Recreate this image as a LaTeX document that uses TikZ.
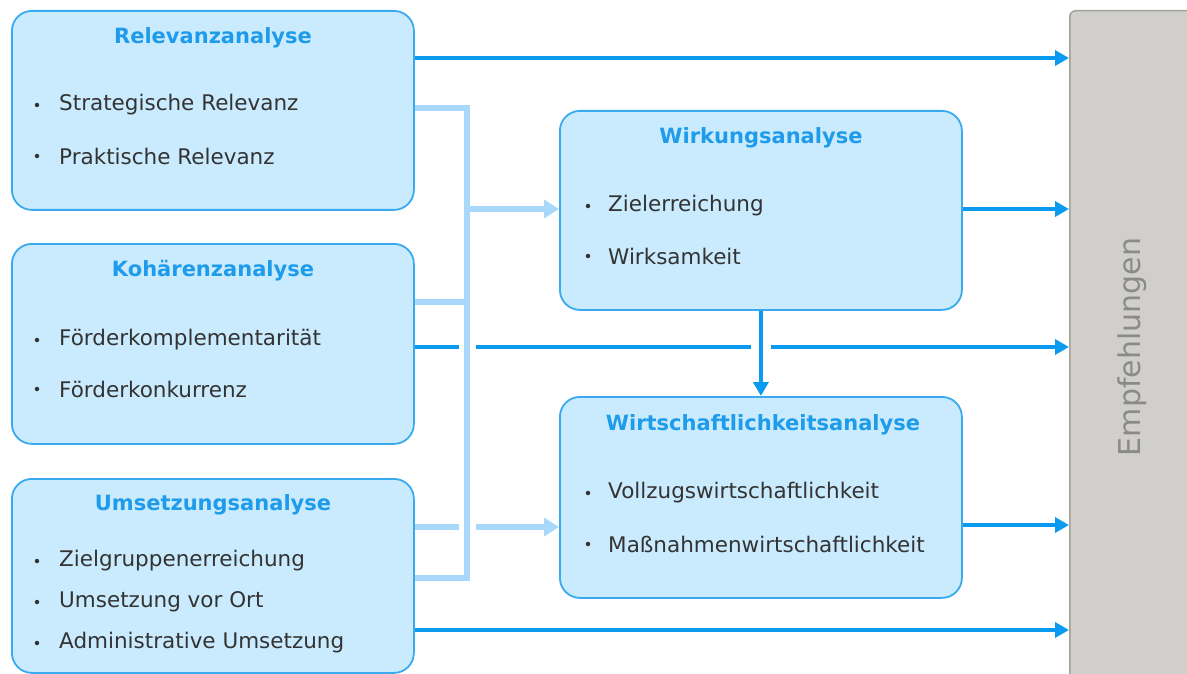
\documentclass[tikz,border=0pt]{standalone}
\usepackage{fontspec}
\setmainfont{DejaVu Sans}
\usetikzlibrary{arrows.meta,calc}
\definecolor{boxfill}{HTML}{C9EBFD}
\definecolor{boxdraw}{HTML}{3AAAF0}
\definecolor{titleblue}{HTML}{1E9BEB}
\definecolor{darkarr}{HTML}{0A9BEF}
\definecolor{lightarr}{HTML}{A8D8FA}
\definecolor{bodytext}{HTML}{333333}
\definecolor{empfill}{HTML}{D0CFCB}
\definecolor{empdraw}{HTML}{A3A298}
\definecolor{emptext}{HTML}{8A8A8A}
\tikzset{
  box/.style={draw=boxdraw, fill=boxfill, line width=1.8pt, rounded corners=20pt, anchor=north west, inner sep=0pt},
  ttl/.style={font=\fontsize{21}{24}\selectfont\bfseries, text=titleblue, inner sep=0pt},
  itm/.style={font=\fontsize{21.5}{24}\selectfont, text=bodytext, anchor=west, inner sep=0pt},
  bul/.style={circle, fill=bodytext, inner sep=0pt, minimum size=4.5pt},
  darkline/.style={draw=darkarr, line width=4.5pt},
  darkarrow/.style={darkline, -{Triangle[length=14pt,width=15pt]}},
  lightline/.style={draw=lightarr, line width=5.5pt},
  lightarrow/.style={lightline, -{Triangle[length=15pt,width=18pt]}},
  gapline/.style={draw=white, line width=17pt}
}
\begin{document}
\begin{tikzpicture}[x=1pt,y=-1pt]
\useasboundingbox (0,0) rectangle (1187,674);
% boxes
\node[box, minimum width=402pt, minimum height=199pt] (rel) at (11,10) {};
\node[box, minimum width=402pt, minimum height=200pt] (koh) at (11,243) {};
\node[box, minimum width=402pt, minimum height=194pt] (ums) at (11,478) {};
\node[box, minimum width=402pt, minimum height=199pt] (wirk) at (559,110) {};
\node[box, minimum width=402pt, minimum height=201pt] (wirt) at (559,396) {};
\begin{scope}
\clip (0,0) rectangle (1187,674);
\node[draw=empdraw, fill=empfill, line width=1.5pt, rounded corners=6pt, anchor=north west, minimum width=140pt, minimum height=690pt, inner sep=0pt] (emp) at (1069,10) {};
\end{scope}
\node[rotate=90, font=\fontsize{30}{32}\selectfont, text=emptext] (emptxt) at (1132,347) {Empfehlungen};
% titles
\node[ttl] (relt) at (213,38) {Relevanzanalyse};
\node[ttl] (koht) at (213,271) {Kohärenzanalyse};
\node[ttl] (umst) at (213,505) {Umsetzungsanalyse};
\node[ttl] (wirkt) at (761,138) {Wirkungsanalyse};
\node[ttl] (wirtt) at (763,425) {Wirtschaftlichkeitsanalyse};
% items
\foreach \n/\y/\t in {r1/105/Strategische Relevanz, r2/156/Praktische Relevanz,
  k1/340/Förderkomplementarität, k2/389/Förderkonkurrenz,
  u1/561/Zielgruppenerreichung, u2/602/Umsetzung vor Ort, u3/643/Administrative Umsetzung}{
  \node[bul] (b\n) at (37,\y) {};
  \node[itm] (\n) at (59,\y) {\t};
}
\foreach \n/\y/\t in {w1/206/Zielerreichung, w2/256/Wirksamkeit,
  v1/493/Vollzugswirtschaftlichkeit, v2/544/Maßnahmenwirtschaftlichkeit}{
  \node[bul] (b\n) at (588,\y) {};
  \node[itm] (\n) at (608,\y) {\t};
}
% coordinates
\coordinate (ya) at (0,58);
\coordinate (yb) at (0,209);
\coordinate (yc) at (0,347);
\coordinate (yd) at (0,525);
\coordinate (ye) at (0,630);
\coordinate (yl1) at (0,108);
\coordinate (yl2) at (0,302);
\coordinate (yl3) at (0,578);
\coordinate (yl4) at (0,527);
\coordinate (vx) at (467,0);
% dark connectors
\draw[darkarrow] (rel.east |- ya) -- (emp.west |- ya);
\draw[darkarrow] (wirk.east |- yb) -- (emp.west |- yb);
\draw[darkarrow] (koh.east |- yc) -- (emp.west |- yc);
\draw[darkarrow] (wirt.east |- yd) -- (emp.west |- yd);
\draw[darkarrow] (ums.east |- ye) -- (emp.west |- ye);
\draw[lightarrow] (ums.east |- yl4) -- (wirt.west |- yl4);
% gaps
\draw[gapline] ($(vx |- yc)+(0,-7)$) -- ($(vx |- yc)+(0,7)$);
\draw[gapline] ($(vx |- yl4)+(0,-7)$) -- ($(vx |- yl4)+(0,7)$);
\draw[draw=white, line width=20pt] ($(wirk.south)+(0,31)$) -- ($(wirk.south)+(0,45)$);
% light connectors
\draw[lightline, line join=miter] (rel.east |- yl1) -- (vx |- yl1) -- (vx |- yl3) -- (ums.east |- yl3);
\draw[lightline] (koh.east |- yl2) -- (vx |- yl2);
\draw[lightarrow] (vx |- yb) -- (wirk.west |- yb);
\draw[darkarrow] (wirk.south) -- (wirt.north);
\end{tikzpicture}
\end{document}
